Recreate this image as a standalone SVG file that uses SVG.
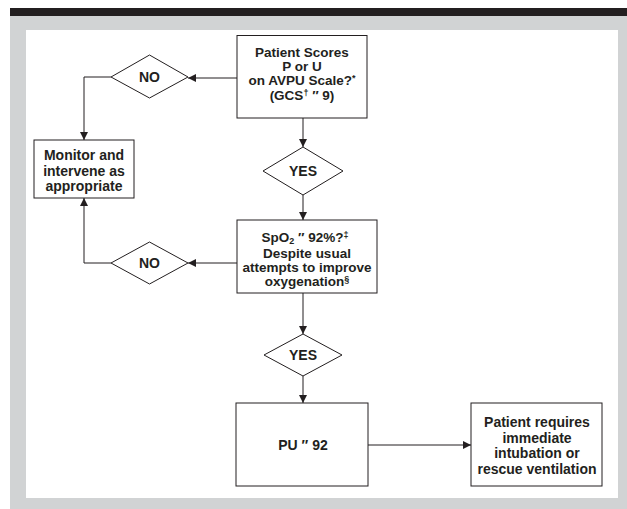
<svg xmlns="http://www.w3.org/2000/svg" width="627" height="509" viewBox="0 0 627 509">
<defs>
<style>
.box{fill:#fff;stroke:#231f20;stroke-width:1}
.ln{fill:none;stroke:#231f20;stroke-width:1}
.t{font-family:"Liberation Sans",Arial,sans-serif;font-weight:bold;font-size:14px;fill:#231f20;text-anchor:middle}
.s{font-size:13.5px}
.sup{font-size:9px}
</style>
<marker id="ah" viewBox="0 0 10 10" refX="10" refY="5" markerWidth="8" markerHeight="8" markerUnits="userSpaceOnUse" orient="auto">
<path d="M0,0 L10,5 L0,10 Z" fill="#231f20"/>
</marker>
</defs>
<rect x="0" y="0" width="627" height="509" fill="#fff"/>
<rect x="10" y="8" width="617" height="8" fill="#231f20"/>
<rect x="10" y="16" width="617" height="493" fill="#d1d3d4"/>
<rect x="26" y="30" width="592" height="468" fill="#fff"/>

<g id="connectors">
<line class="ln" x1="237" y1="78" x2="188" y2="78" marker-end="url(#ah)"/>
<polyline class="ln" points="111,77 84,77 84,140" marker-end="url(#ah)"/>
<line class="ln" x1="303" y1="118" x2="303" y2="147" marker-end="url(#ah)"/>
<line class="ln" x1="303" y1="195" x2="303" y2="220" marker-end="url(#ah)"/>
<line class="ln" x1="237" y1="263" x2="188" y2="263" marker-end="url(#ah)"/>
<polyline class="ln" points="111,263 84,263 84,198" marker-end="url(#ah)"/>
<line class="ln" x1="303" y1="293" x2="303" y2="334" marker-end="url(#ah)"/>
<line class="ln" x1="303" y1="376" x2="303" y2="403" marker-end="url(#ah)"/>
<line class="ln" x1="368" y1="445" x2="471" y2="445" marker-end="url(#ah)"/>
</g>

<g id="q1">
<rect class="box" x="237" y="35.5" width="130" height="82.5"/>
<text class="t s" x="302" y="57">Patient Scores</text>
<text class="t s" x="302" y="71">P or U</text>
<text class="t s" x="302" y="85">on AVPU Scale?<tspan class="sup" dy="-4">*</tspan></text>
<text class="t s" x="302" y="99.5">(GCS<tspan class="sup" dy="-3.5">†</tspan><tspan dy="3.5"> ″ 9)</tspan></text>
</g>

<g id="no1">
<polygon class="box" points="111,77 149.5,55 188,77 149.5,98"/>
<text class="t" x="149.5" y="82">NO</text>
</g>

<g id="monitor">
<rect class="box" x="34" y="140" width="100" height="58"/>
<text class="t" x="84" y="160">Monitor and</text>
<text class="t" x="84" y="175.5">intervene as</text>
<text class="t" x="84" y="191">appropriate</text>
</g>

<g id="yes1">
<polygon class="box" points="263,171 303,147 343,171 303,195"/>
<text class="t" x="303" y="176">YES</text>
</g>

<g id="q2">
<rect class="box" x="237" y="220" width="140" height="73"/>
<text class="t s" x="305" y="241.5">SpO<tspan class="sup" dy="2">2</tspan><tspan dy="-2">  ″ 92%?</tspan><tspan class="sup" dy="-4">‡</tspan></text>
<text class="t s" x="307" y="257.5">Despite usual</text>
<text class="t s" x="307" y="271.5">attempts to improve</text>
<text class="t s" x="307" y="285.5">oxygenation<tspan class="sup" dy="-3.5">§</tspan></text>
</g>

<g id="no2">
<polygon class="box" points="111,263 149.5,242 188,263 149.5,284"/>
<text class="t" x="149.5" y="268">NO</text>
</g>

<g id="yes2">
<polygon class="box" points="264,355 303,334 342,355 303,376"/>
<text class="t" x="303" y="360">YES</text>
</g>

<g id="pu">
<rect class="box" x="236" y="403" width="132" height="83"/>
<text class="t" x="303" y="450">PU ″ 92</text>
</g>

<g id="result">
<rect class="box" x="471" y="403" width="131" height="83"/>
<text class="t" x="537" y="427">Patient requires</text>
<text class="t" x="537" y="442.5">immediate</text>
<text class="t" x="537" y="458">intubation or</text>
<text class="t" x="537" y="473.5">rescue ventilation</text>
</g>
</svg>
